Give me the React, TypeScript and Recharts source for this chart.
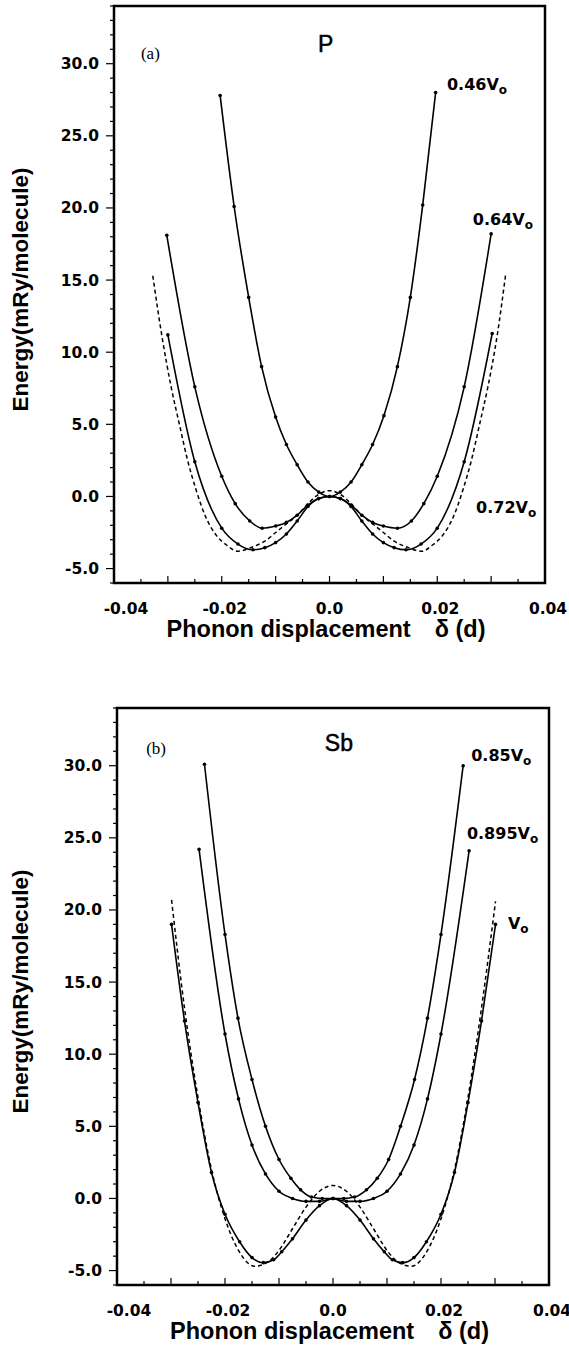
import React from 'react';
import { LineChart, Line, XAxis, YAxis, ReferenceArea, ReferenceDot, Label } from 'recharts';

// ---------- Panel (a): P ----------
const pDelta046 = [-0.0203, -0.0177, -0.015, -0.0126, -0.010, -0.008, -0.006, -0.004, -0.002, 0, 0.002, 0.004, 0.006, 0.008, 0.0101, 0.0126, 0.015, 0.0173, 0.0197];
const pEnergy046 = [27.8, 20.1, 13.8, 9.0, 5.5, 3.6, 2.2, 1.0, 0.3, 0, 0.3, 1.0, 2.2, 3.6, 5.6, 9.0, 13.8, 20.2, 28.0];

const pDelta064 = [-0.0302, -0.025, -0.020, -0.0175, -0.0148, -0.0125, -0.010, -0.008, -0.006, -0.004, -0.002, 0, 0.002, 0.004, 0.006, 0.008, 0.010, 0.0126, 0.0152, 0.0175, 0.020, 0.025, 0.030];
const pEnergy064 = [18.1, 7.6, 1.4, -0.5, -1.7, -2.2, -2.05, -1.8, -1.3, -0.6, -0.15, 0, -0.15, -0.6, -1.3, -1.8, -2.05, -2.2, -1.7, -0.5, 1.4, 7.6, 18.2];

const pDelta072 = [-0.030, -0.025, -0.020, -0.017, -0.0142, -0.012, -0.010, -0.008, -0.006, -0.004, -0.002, 0, 0.002, 0.004, 0.006, 0.008, 0.010, 0.012, 0.0142, 0.017, 0.020, 0.025, 0.0302];
const pEnergy072 = [11.2, 2.4, -2.2, -3.3, -3.7, -3.55, -3.2, -2.6, -1.7, -0.7, -0.15, 0, -0.15, -0.7, -1.7, -2.6, -3.2, -3.55, -3.7, -3.3, -2.2, 2.4, 11.3];

const pDeltaFit = [-0.0328, -0.0311, -0.0294, -0.0278, -0.0264, -0.0248, -0.023, -0.021, -0.019, -0.0171, -0.0143, -0.012, -0.010, -0.008, -0.006, -0.004, -0.002, 0, 0.002, 0.004, 0.006, 0.008, 0.010, 0.012, 0.0143, 0.0172, 0.019, 0.021, 0.023, 0.0248, 0.0264, 0.0278, 0.0294, 0.0311, 0.0327];
const pEnergyFit = [15.3, 11.1, 7.6, 4.9, 2.6, 0.5, -1.4, -2.7, -3.4, -3.8, -3.5, -3.1, -2.5, -1.9, -1.3, -0.5, 0.15, 0.4, 0.15, -0.5, -1.3, -1.9, -2.5, -3.1, -3.5, -3.8, -3.4, -2.7, -1.4, 0.5, 2.6, 4.9, 7.6, 11.1, 15.4];

// ---------- Panel (b): Sb ----------
const sDelta085 = [-0.0238, -0.020, -0.0176, -0.015, -0.0125, -0.010, -0.0078, -0.006, -0.004, -0.002, 0, 0.002, 0.004, 0.0062, 0.0082, 0.0103, 0.0125, 0.0151, 0.0175, 0.020, 0.0241];
const sEnergy085 = [30.1, 18.3, 12.5, 8.25, 5.0, 2.7, 1.4, 0.6, 0.1, 0.0, 0, 0.0, 0.1, 0.6, 1.4, 2.7, 5.0, 8.25, 12.5, 18.3, 30.0];

const sDelta0895 = [-0.0248, -0.020, -0.0175, -0.015, -0.0125, -0.010, -0.0075, -0.005, -0.0025, 0, 0.0025, 0.005, 0.0075, 0.010, 0.0125, 0.015, 0.0175, 0.020, 0.0252];
const sEnergy0895 = [24.2, 11.4, 6.9, 3.7, 1.7, 0.5, 0.0, -0.2, -0.2, 0, -0.2, -0.2, 0.0, 0.5, 1.7, 3.7, 6.9, 11.4, 24.1];

const sDeltaV0 = [-0.0299, -0.0275, -0.025, -0.0225, -0.020, -0.0173, -0.015, -0.0129, -0.011, -0.0095, -0.0075, -0.005, -0.0025, 0, 0.0025, 0.005, 0.0075, 0.0095, 0.011, 0.0129, 0.015, 0.0173, 0.020, 0.0225, 0.025, 0.0275, 0.0301];
const sEnergyV0 = [19.0, 12.3, 6.65, 1.8, -1.1, -3.0, -4.1, -4.45, -4.25, -3.7, -2.8, -1.5, -0.5, 0, -0.5, -1.5, -2.8, -3.7, -4.25, -4.45, -4.1, -3.0, -1.1, 1.8, 6.65, 12.3, 19.0];

const sDeltaFit = [-0.0299, -0.0275, -0.025, -0.0225, -0.020, -0.0175, -0.0145, -0.012, -0.010, -0.0075, -0.005, -0.0025, 0, 0.0025, 0.005, 0.0075, 0.010, 0.012, 0.0145, 0.0175, 0.020, 0.0225, 0.025, 0.0275, 0.0301];
const sEnergyFit = [20.7, 13.2, 7.0, 2.0, -1.4, -3.6, -4.7, -4.4, -3.6, -2.1, -0.6, 0.5, 0.9, 0.5, -0.6, -2.1, -3.6, -4.4, -4.7, -3.6, -1.4, 2.0, 7.0, 13.2, 20.6];

// ---------- Axes ----------
const xDomain = [-0.04, 0.04];
const yDomain = [-6, 34];
const xTicks = [-0.04, -0.035, -0.03, -0.025, -0.02, -0.015, -0.01, -0.005, 0, 0.005, 0.01, 0.015, 0.02, 0.025, 0.03, 0.035, 0.04];
const xLabelTicks = [-0.04, -0.02, 0, 0.02, 0.04];
const xTickLabels = ['-0.04', '-0.02', '0.0', '0.02', '0.04'];
const yTicks = [-6, -5, -4, -3, -2, -1, 0, 1, 2, 3, 4, 5, 6, 7, 8, 9, 10, 11, 12, 13, 14, 15, 16, 17, 18, 19, 20, 21, 22, 23, 24, 25, 26, 27, 28, 29, 30, 31, 32, 33, 34];
const yLabelTicks = [-5, 0, 5, 10, 15, 20, 25, 30];
const yTickLabels = ['-5.0', '0.0', '5.0', '10.0', '15.0', '20.0', '25.0', '30.0'];

const xTitleMain = 'Phonon displacement';
const xTitleSymbol = 'δ (d)';
const yTitle = 'Energy(mRy/molecule)';

const zip = (d: number[], e: number[]) => d.map((v, i) => ({ d: v, e: e[i] }));

const TICK_FONT = '"DejaVu Sans", sans-serif';
const TITLE_FONT = '"Liberation Sans", Arial, sans-serif';

const XTick = (props: any) => {
  const { x, y, payload } = props;
  const v = payload.value as number;
  const li = xLabelTicks.findIndex((t) => Math.abs(t - v) < 1e-9);
  const isHundredth = Math.abs(Math.round(v * 100) - v * 100) < 1e-6;
  const len = isHundredth ? 7 : 4;
  const shift = li === 0 ? 12 : li === 2 ? 0 : 3;
  return (
    <g>
      <line x1={x} y1={y} x2={x} y2={y - len} stroke="#000" strokeWidth={1.2} />
      {li >= 0 && (
        <text x={x + shift} y={y + 31} textAnchor="middle" fontFamily={TICK_FONT} fontWeight="bold" fontSize={15.5} fill="#000">
          {xTickLabels[li]}
        </text>
      )}
    </g>
  );
};

const YTick = (props: any) => {
  const { x, y, payload } = props;
  const v = payload.value as number;
  const li = yLabelTicks.indexOf(v);
  const len = li >= 0 ? 8 : 4;
  return (
    <g>
      <line x1={x} y1={y} x2={x - len} y2={y} stroke="#000" strokeWidth={1.2} />
      {li >= 0 && (
        <text x={x - 15} y={y + 5.5} textAnchor="end" fontFamily={TICK_FONT} fontWeight="bold" fontSize={15.5} fill="#000">
          {yTickLabels[li]}
        </text>
      )}
    </g>
  );
};

const XTitle = (props: any) => {
  const vb = props.viewBox || {};
  const startX = vb.x + vb.width / 2 - 163;
  return (
    <text x={startX} y={vb.y + 54} textAnchor="start" fontFamily={TITLE_FONT} fontWeight="bold" fontSize={23.5} fill="#000">
      <tspan>{xTitleMain}</tspan>
      <tspan dx={24}>{xTitleSymbol}</tspan>
    </text>
  );
};

const YTitle = (props: any) => {
  const vb = props.viewBox || {};
  const cx = 28;
  const cy = vb.y + vb.height / 2 - 5;
  return (
    <text x={cx} y={cy} transform={`rotate(-90, ${cx}, ${cy})`} textAnchor="middle" fontFamily={TITLE_FONT} fontWeight="bold" fontSize={22.5} fill="#000">
      {yTitle}
    </text>
  );
};

type Ann = { x: number; y: number; kind: 'vol' | 'serif' | 'elem'; text: string; sub?: string };

const annLabel = (a: Ann) => (props: any) => {
  const vb = props.viewBox || {};
  const px = vb.x + (vb.width || 0) / 2;
  const py = vb.y + (vb.height || 0) / 2;
  if (a.kind === 'serif') {
    return (
      <text x={px} y={py} textAnchor="start" fontFamily='"Liberation Serif", serif' fontSize={17} fill="#000">{a.text}</text>
    );
  }
  if (a.kind === 'elem') {
    return (
      <text x={px} y={py} textAnchor="middle" fontFamily={TITLE_FONT} fontSize={23} fill="#000" stroke="#000" strokeWidth={0.5}>{a.text}</text>
    );
  }
  return (
    <text x={px} y={py} textAnchor="start" fontFamily={TICK_FONT} fontWeight="bold" fontSize={16} fill="#000">
      {a.text}
      {a.sub && <tspan fontSize={12} dy={4}>{a.sub}</tspan>}
    </text>
  );
};

const pAnnotations: Ann[] = [
  { x: -0.035, y: 30.3, kind: 'serif', text: '(a)' },
  { x: -0.0007, y: 30.8, kind: 'elem', text: 'P' },
  { x: 0.0218, y: 28.2, kind: 'vol', text: '0.46V', sub: 'o' },
  { x: 0.0266, y: 18.8, kind: 'vol', text: '0.64V', sub: 'o' },
  { x: 0.0272, y: -1.15, kind: 'vol', text: '0.72V', sub: 'o' },
];

const sAnnotations: Ann[] = [
  { x: -0.0346, y: 30.8, kind: 'serif', text: '(b)' },
  { x: 0.0011, y: 31.0, kind: 'elem', text: 'Sb' },
  { x: 0.0256, y: 30.3, kind: 'vol', text: '0.85V', sub: 'o' },
  { x: 0.0248, y: 24.9, kind: 'vol', text: '0.895V', sub: 'o' },
  { x: 0.0324, y: 18.7, kind: 'vol', text: 'V', sub: 'o' },
];

type Series = { data: { d: number; e: number }[]; dashed?: boolean };

const Panel = ({ width, height, margin, yAxisWidth, xAxisHeight, series, annotations }: any) => (
  <LineChart width={width} height={height} margin={margin}>
    <XAxis
      type="number"
      dataKey="d"
      domain={xDomain}
      ticks={xTicks}
      interval={0}
      allowDataOverflow
      height={xAxisHeight}
      axisLine={false}
      tickLine={false}
      tickSize={0}
      tickMargin={0}
      tick={(p: any) => <XTick {...p} />}
    >
      <Label content={(p: any) => <XTitle {...p} />} />
    </XAxis>
    <YAxis
      type="number"
      domain={yDomain}
      ticks={yTicks}
      interval={0}
      allowDataOverflow
      width={yAxisWidth}
      axisLine={false}
      tickLine={false}
      tickSize={0}
      tickMargin={0}
      tick={(p: any) => <YTick {...p} />}
    >
      <Label content={(p: any) => <YTitle {...p} />} />
    </YAxis>
    <ReferenceArea x1={-0.04} x2={0.04} y1={-6} y2={34} fill="none" fillOpacity={0} stroke="#000" strokeWidth={2.5} ifOverflow="visible" />
    {series.filter((s: Series) => s.dashed).map((s: Series, i: number) => (
      <Line
        key={'dash' + i}
        data={s.data}
        dataKey="e"
        type="monotone"
        stroke="#000"
        strokeWidth={1.5}
        strokeDasharray="4 3"
        dot={false}
        activeDot={false}
        isAnimationActive={false}
      />
    ))}
    {series.filter((s: Series) => !s.dashed).map((s: Series, i: number) => (
      <Line
        key={'solid' + i}
        data={s.data}
        dataKey="e"
        type="monotone"
        stroke="#000"
        strokeWidth={1.6}
        dot={{ r: 1.8, fill: '#000', stroke: '#000', strokeWidth: 0 }}
        activeDot={false}
        isAnimationActive={false}
      />
    ))}
    {annotations.map((a: Ann, i: number) => (
      <ReferenceDot key={'ann' + i} x={a.x} y={a.y} r={0} fill="none" stroke="none" ifOverflow="visible" label={annLabel(a)} />
    ))}
  </LineChart>
);

export default function App() {
  const pSeries: Series[] = [
    { data: zip(pDeltaFit, pEnergyFit), dashed: true },
    { data: zip(pDelta046, pEnergy046) },
    { data: zip(pDelta064, pEnergy064) },
    { data: zip(pDelta072, pEnergy072) },
  ];
  const sSeries: Series[] = [
    { data: zip(sDeltaFit, sEnergyFit), dashed: true },
    { data: zip(sDelta085, sEnergy085) },
    { data: zip(sDelta0895, sEnergy0895) },
    { data: zip(sDeltaV0, sEnergyV0) },
  ];
  return (
    <div style={{ position: 'absolute', left: 0, top: 0, width: 569, height: 1347, background: '#fff', overflow: 'hidden' }}>
      <div style={{ position: 'absolute', left: 0, top: 0 }}>
        <Panel
          width={569}
          height={650}
          margin={{ top: 6, right: 24, left: 0, bottom: 0 }}
          yAxisWidth={114}
          xAxisHeight={67}
          series={pSeries}
          annotations={pAnnotations}
        />
      </div>
      <div style={{ position: 'absolute', left: 0, top: 700 }}>
        <Panel
          width={569}
          height={647}
          margin={{ top: 8, right: 20, left: 0, bottom: 0 }}
          yAxisWidth={117}
          xAxisHeight={62}
          series={sSeries}
          annotations={sAnnotations}
        />
      </div>
    </div>
  );
}
